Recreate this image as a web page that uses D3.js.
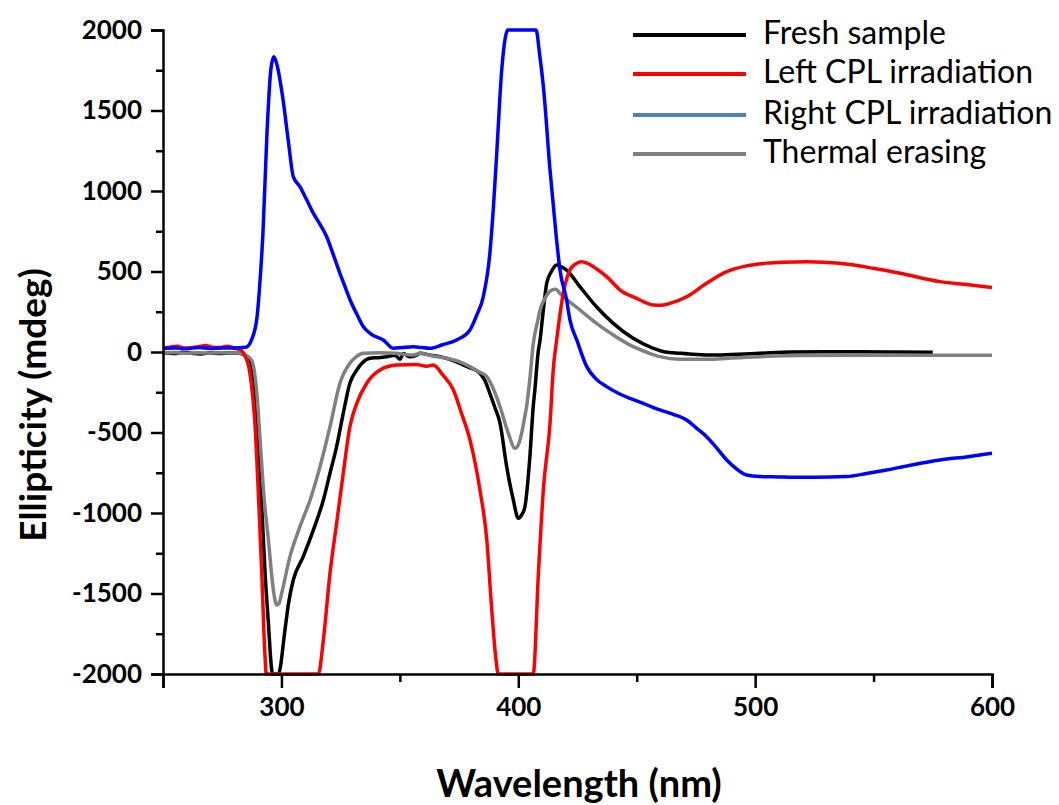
<!DOCTYPE html>
<html>
<head>
<meta charset="utf-8">
<script src="https://cdn.jsdelivr.net/npm/d3@7"></script>
<style>
  html, body { margin: 0; padding: 0; background: #fff; }
  svg { display: block; }
</style>
</head>
<body>
<svg id="chart" width="1059" height="805"></svg>
<script>
// ---- data (wavelength nm, ellipticity mdeg) ----
const seriesNames = ["Fresh sample", "Left CPL irradiation", "Right CPL irradiation", "Thermal erasing"];
const lineColors = ["#000000", "#ff0000", "#0000ff", "#808080"];
const legendColors = ["#000000", "#ff0000", "#4f81bd", "#808080"];

const xTicks = [250, 300, 400, 500, 600];
const xMinor = [350, 450, 550];
const yTicks = [-2000, -1500, -1000, -500, 0, 500, 1000, 1500, 2000];
const yMinor = [-1750, -1250, -750, -250, 250, 750, 1250, 1750];

const freshSample = [[250,-5],[255,-10],[258,-2],[262,-8],[266,-12],[270,-5],[274,-10],[278,-6],[282,-8],[284.5,-20],[286.7,-50],[288.8,-236],[290.2,-546],[291.7,-961],[293.1,-1374],[294.5,-1685],[295.9,-1975],[296.3,-2000],[298.7,-2000],[301.5,-1726],[303,-1560],[305,-1416],[309.2,-1271],[313.5,-1105],[317.7,-919],[320.5,-753],[323.3,-588],[326.1,-381],[328.9,-194],[331.8,-112],[334,-70],[337.4,-39],[341,-35],[344.4,-29],[348,-20],[350,-45],[351.5,-10],[354,-30],[357.1,-19],[358.5,-8],[363,-20],[367,-29],[371,-45],[375.4,-70],[379,-95],[383.8,-132],[386,-180],[388,-257],[390,-340],[392.3,-443],[395.1,-712],[397.9,-919],[400,-1033],[401.5,-1010],[402.8,-961],[404.9,-650],[406.3,-340],[407,-236],[408.4,0],[409.2,75],[410.5,250],[412,427],[414,500],[416.2,540],[418,530],[420.4,509],[426,406],[433,281],[440.1,178],[448.5,85],[457,23],[462,0],[468.3,-8],[475,-15],[482.3,-19],[490,-15],[502,-8],[515,0],[530,2],[545,2],[560,0],[575,-2]];

const leftCPL = [[250,25],[253,30],[256,35],[259,25],[262,28],[265,32],[268,40],[271,30],[274,28],[277,35],[280,25],[283,10],[284.5,-20],[286.7,-132],[288.8,-443],[290.2,-857],[291.7,-1374],[293.1,-1900],[293.6,-2000],[315.6,-2000],[317.7,-1789],[320.5,-1374],[323.3,-1064],[326.1,-753],[328.9,-464],[331.8,-319],[336,-194],[341.6,-112],[348.7,-81],[357,-78],[361.3,-88],[364.1,-81],[368,-140],[372.6,-236],[376,-380],[379.6,-546],[383.8,-857],[386.7,-1167],[388.7,-1582],[390.5,-1900],[391.6,-2000],[406.3,-2000],[408.5,-1374],[410.6,-850],[413.4,-443],[414.8,-100],[416.2,75],[419,364],[421.8,509],[424,545],[426.7,561],[429,552],[431.7,530],[437.3,468],[443,385],[450,333],[457,292],[460,290],[464,302],[471.1,343],[479.5,427],[488,499],[496.4,535],[505,552],[512,558],[521.8,561],[535.8,551],[549.9,520],[561.2,489],[578,437],[590,418],[600,401]];

const rightCPL = [[250,22],[255,25],[260,20],[265,28],[270,22],[275,25],[280,25],[285,30],[287.5,80],[289.7,217],[291,450],[292.2,739],[293.9,1360],[295.5,1750],[296.8,1834],[298,1790],[300.7,1565],[303,1300],[305,1089],[307.8,1027],[310.5,950],[313.5,861],[316,800],[319.1,716],[322,600],[324.7,489],[327,400],[329,323],[332,230],[334.6,157],[338,110],[343,75],[347.2,23],[351,28],[355.7,33],[359,28],[362.7,23],[368,45],[374,75],[379.6,137],[382.5,230],[385.2,343],[388,613],[389.5,900],[390.9,1234],[393,1751],[394.5,1950],[395.5,2000],[407.5,2000],[409,1850],[410.6,1648],[413.4,1130],[416,720],[417.6,509],[420.4,323],[421.8,199],[424.7,75],[428.9,-91],[433,-170],[437.3,-215],[442,-255],[447.2,-288],[453,-320],[459.8,-360],[466,-390],[471.1,-422],[475,-470],[479.5,-526],[484,-600],[488,-671],[492,-725],[496.4,-764],[502,-774],[510,-776],[516,-778],[525,-778],[538.6,-774],[547,-755],[555.5,-733],[565,-705],[578,-671],[590,-650],[600,-629]];

const thermalErasing = [[250,-5],[255,-3],[260,-8],[265,-5],[270,-6],[275,-4],[280,-6],[282.5,-8],[285,-20],[287.4,-50],[289.5,-236],[291,-546],[292.4,-857],[294.5,-1167],[296.6,-1478],[298,-1571],[299,-1560],[300.1,-1498],[303.6,-1271],[307.8,-1085],[312.1,-919],[316.3,-712],[320.5,-464],[324.7,-194],[328.9,-70],[331.5,-30],[334.6,-8],[341.6,-4],[348,-8],[355.7,-19],[358.5,-8],[364,-25],[369.8,-39],[375,-60],[379.6,-91],[383,-120],[386.7,-153],[389.5,-230],[392.3,-340],[395.8,-505],[398.6,-598],[399.5,-590],[401.4,-505],[402.5,-420],[403.5,-340],[405,-150],[406.3,50],[408,180],[409.2,261],[411.5,340],[414.1,385],[415.8,390],[417.6,364],[421,320],[426,261],[433,178],[440.1,106],[448.5,33],[454,0],[459.8,-29],[468.3,-45],[482.3,-45],[490,-38],[502,-29],[520,-22],[550,-20],[575,-20],[600,-20]];

const allSeries = [freshSample, leftCPL, rightCPL, thermalErasing];
const drawOrder = [0, 3, 1, 2];

// ---- layout ----
const svg = d3.select("#chart");
const plotL = 163, plotR = 992, plotT = 30, plotB = 674;
const x = d3.scaleLinear().domain([250, 600]).range([plotL, plotR]);
const y = d3.scaleLinear().domain([-2000, 2000]).range([plotB, plotT]);

const tickFont = "Lato, 'Open Sans', sans-serif";

// lines
const line = d3.line().x(d => x(d[0])).y(d => y(d[1])).curve(d3.curveMonotoneX);
const gLines = svg.append("g");
drawOrder.forEach(i => {
  gLines.append("path")
    .datum(allSeries[i])
    .attr("fill", "none")
    .attr("stroke", lineColors[i])
    .attr("stroke-width", 3.5)
    .attr("stroke-linejoin", "round")
    .attr("d", line);
});

// y axis
svg.append("g").attr("transform", `translate(${plotL},0)`)
  .call(d3.axisLeft(y).tickValues(yTicks).tickSize(12).tickPadding(9).tickFormat(d => String(d)));
svg.append("g").attr("transform", `translate(${plotL},0)`)
  .call(d3.axisLeft(y).tickValues(yMinor).tickSize(7).tickFormat(""))
  .call(g => g.select(".domain").remove());

// x axis
svg.append("g").attr("transform", `translate(0,${plotB})`)
  .call(d3.axisBottom(x).tickValues(xTicks).tickSize(14).tickPadding(10)
    .tickFormat(d => d === 250 ? "" : String(d)));
svg.append("g").attr("transform", `translate(0,${plotB})`)
  .call(d3.axisBottom(x).tickValues(xMinor).tickSize(8).tickFormat(""))
  .call(g => g.select(".domain").remove());

svg.selectAll(".domain").attr("stroke", "#000").attr("stroke-width", 2.5);
svg.selectAll(".tick line").attr("stroke", "#000").attr("stroke-width", 2.5);
svg.selectAll(".tick text")
  .attr("fill", "#000")
  .style("font-family", tickFont)
  .style("font-size", "26px")
  .style("font-weight", "700");

// axis titles
svg.append("text")
  .attr("transform", `translate(46,405) rotate(-90)`)
  .attr("text-anchor", "middle")
  .style("font-family", tickFont)
  .style("font-size", "37px")
  .style("font-weight", "700")
  .text("Ellipticity (mdeg)");

svg.append("text")
  .attr("x", 579).attr("y", 797)
  .attr("text-anchor", "middle")
  .style("font-family", tickFont)
  .style("font-size", "38px")
  .style("font-weight", "700")
  .text("Wavelength (nm)");

// legend
const legendY = [35, 74, 115, 154];
const legend = svg.append("g");
seriesNames.forEach((name, i) => {
  legend.append("line")
    .attr("x1", 633).attr("x2", 746)
    .attr("y1", legendY[i]).attr("y2", legendY[i])
    .attr("stroke", legendColors[i]).attr("stroke-width", 4);
  legend.append("text")
    .attr("x", 763).attr("y", legendY[i] + 9)
    .style("font-family", tickFont)
    .style("font-size", "32px")
    .text(name);
});
</script>
</body>
</html>
